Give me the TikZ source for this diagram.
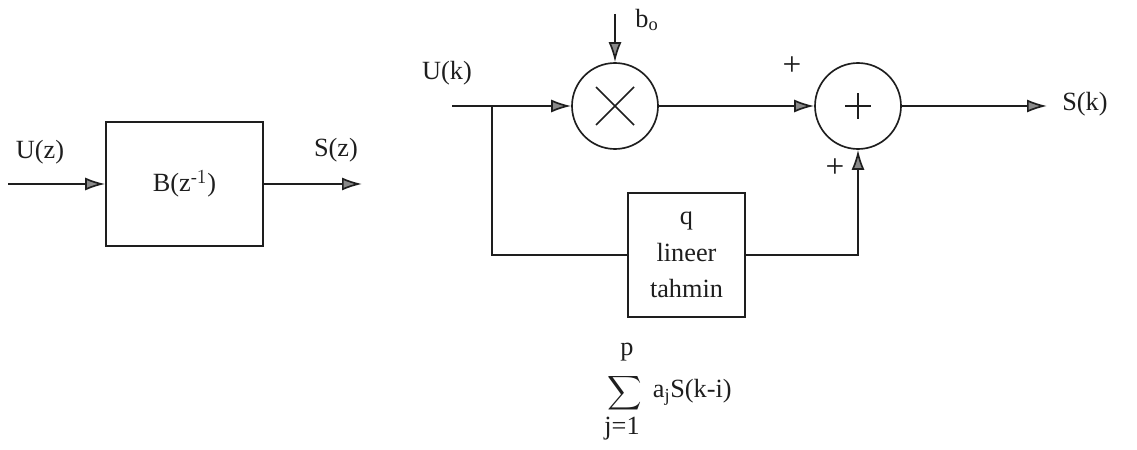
\documentclass[tikz,border=0pt]{standalone}
\usepackage{fontspec}
\usepackage{amsmath}
\setmainfont{Liberation Serif}
\usetikzlibrary{arrows.meta}
\definecolor{inkdark}{HTML}{1E1E1E}
\definecolor{tipgray}{HTML}{8A8A8A}
\newcommand{\diagramtext}{\fontsize{19}{23}\selectfont}

\begin{document}
\begin{tikzpicture}[x=1in,y=1in,font=\diagramtext,line width=1.2pt,color=inkdark,
  blockbox/.style={draw,minimum width=#1,minimum height=1.24in,inner sep=0pt,align=center},
  junction/.style={draw,circle,minimum size=0.86in,inner sep=0pt},
  signtext/.style={font=\fontsize{24}{24}\selectfont},
  flow/.style={-{Latex[length=0.2in,width=0.13in,fill=tipgray]}}]
\useasboundingbox (0,0) rectangle (11.37,4.5);
% left: transfer function
\node[blockbox=1.57in] (bz) at (1.845,2.66) {B(z$^{\text{-}1}$)};
\coordinate (uzin) at (0.08,2.66);
\coordinate (szout) at (3.62,2.66);
\draw[flow] (uzin) -- (bz);
\draw[flow] (bz) -- (szout);
\node (uz) at (0.40,2.98) {U(z)};
\node (sz) at (3.36,3.00) {S(z)};
% right: predictor structure
\node[junction] (mult) at (6.15,3.44) {};
\node[junction] (sum) at (8.58,3.44) {};
\node[blockbox=1.17in] (pred) at (6.865,1.95) {q\\[3.5pt]lineer\\[3.5pt]tahmin};
\draw (mult.center) ++(-0.19,0.19) -- ++(0.38,-0.38);
\draw (mult.center) ++(-0.19,-0.19) -- ++(0.38,0.38);
\draw (sum.center) ++(-0.13,0) -- ++(0.26,0);
\draw (sum.center) ++(0,-0.13) -- ++(0,0.26);
\coordinate (ukin) at (4.52,3.44);
\coordinate (split) at (4.92,3.44);
\coordinate (boin) at (6.15,4.36);
\coordinate (skout) at (10.47,3.44);
\draw[flow] (ukin) -- (mult);
\draw[flow] (boin) -- (mult);
\draw[flow] (mult) -- (sum);
\draw[flow] (sum) -- (skout);
\draw (split) |- (pred.west);
\draw[flow] (pred.east) -| (sum.south);
\node (uk) at (4.47,3.77) {U(k)};
\node (bo) at (6.47,4.30) {b$_\text{o}$};
\node (sk) at (10.85,3.46) {S(k)};
\node[signtext] (plusa) at (7.92,3.84) {+};
\node[signtext] (plusb) at (8.35,2.82) {+};
% predictor sum below
\node[font=\fontsize{17}{17}\selectfont,inner sep=0pt] (sumsym) at (6.25,0.57) {$\displaystyle\sum$};
\node[inner sep=0pt] (sumtop) at (6.27,0.98) {p};
\node[inner sep=0pt] (sumbot) at (6.22,0.21) {j=1};
\node[anchor=west,inner sep=0pt] (sumterm) at (6.52,0.58) {a$_\text{j}$S(k-i)};
\end{tikzpicture}
\end{document}
